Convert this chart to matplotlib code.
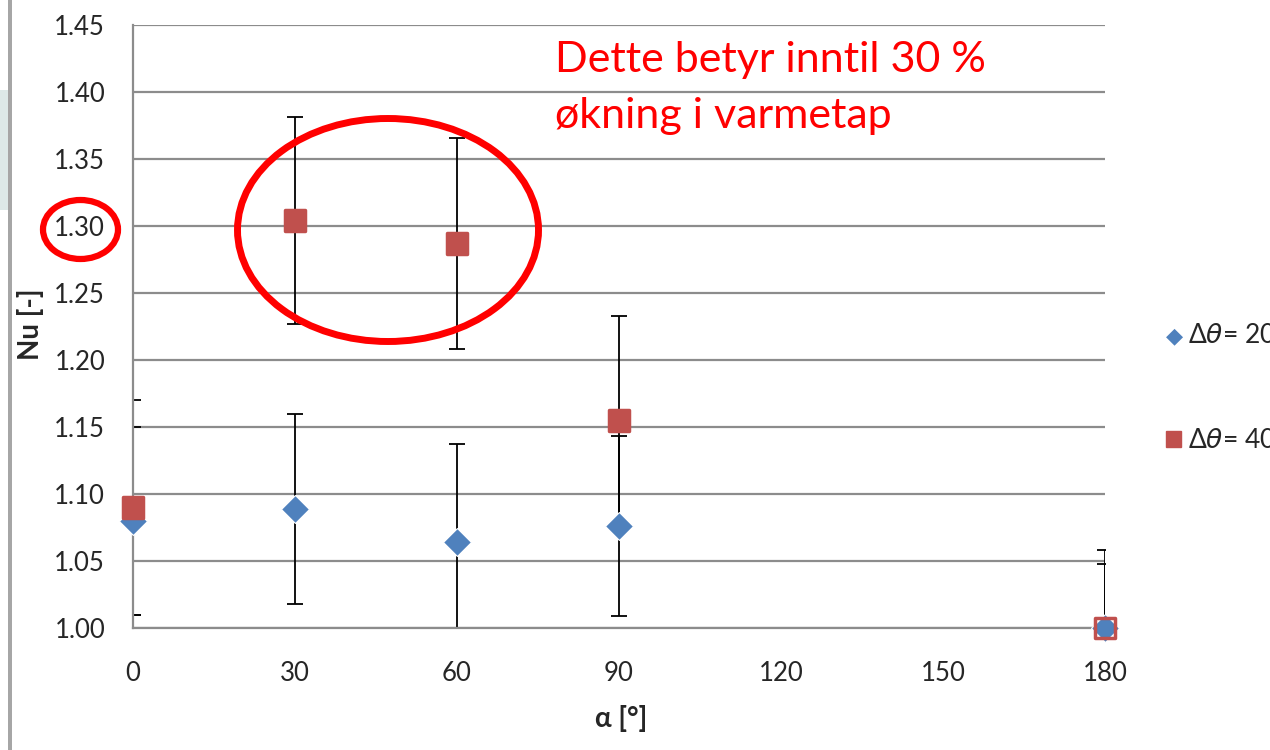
import matplotlib.pyplot as plt
from matplotlib.patches import Ellipse, Rectangle

# data
angles = [0, 30, 60, 90, 180]
nu_20 = [1.080, 1.089, 1.064, 1.076, 1.000]
err_20 = [0.070, 0.071, 0.073, 0.067, 0.048]
nu_40 = [1.090, 1.304, 1.287, 1.155, 1.000]
err_40 = [0.080, 0.077, 0.079, 0.078, 0.058]
xticks = [0, 30, 60, 90, 120, 150, 180]
yticks = [1.00, 1.05, 1.10, 1.15, 1.20, 1.25, 1.30, 1.35, 1.40, 1.45]

blue = '#4F81BD'
red = '#C0504D'
grid = '#8C8C8C'

plt.rcParams['font.family'] = ['Lato', 'DejaVu Sans']

W, H = 1270, 750
fig = plt.figure(figsize=(W / 100, H / 100), dpi=100)
ax = fig.add_axes([133 / W, 1 - 628 / H, (1105 - 133) / W, (628 - 25) / H])

ax.set_xlim(0, 180)
ax.set_ylim(1.0, 1.45)
ax.set_xticks(xticks)
ax.set_yticks(yticks)
ax.set_yticklabels(['%.2f' % v for v in yticks])
ax.tick_params(length=0, labelsize=18.5, colors='#262626')
ax.tick_params(axis='y', pad=20)
ax.tick_params(axis='x', pad=24)
ax.yaxis.grid(True, color=grid, lw=1.6)
ax.set_axisbelow(True)
for s in ['top', 'right']:
    ax.spines[s].set_visible(False)
for s in ['left', 'bottom']:
    ax.spines[s].set_color(grid)
    ax.spines[s].set_linewidth(1.6)

# error bars
ax.errorbar(angles, nu_20, yerr=err_20, fmt='none', ecolor='black',
            elinewidth=1.3, capsize=6, capthick=1.3, zorder=2)
ax.errorbar(angles, nu_40, yerr=err_40, fmt='none', ecolor='black',
            elinewidth=1.3, capsize=6, capthick=1.3, zorder=2)

# markers
ax.plot(angles, nu_20, ls='none', marker='D', ms=14, color=blue,
        mec='white', mew=0.8, zorder=3, clip_on=False)
face_40 = [red] * (len(angles) - 1) + ['none']
ax.scatter(angles, nu_40, marker='s', s=220, facecolors=face_40,
           edgecolors=red, linewidths=2.5, zorder=4, clip_on=False)

# axis titles
fig.text(30 / W, 1 - 324 / H, 'Nu [-]', fontsize=20, fontweight='bold',
         rotation=90, ha='center', va='center', color='#262626')
fig.text(621 / W, 1 - 718 / H, 'α [°]', fontsize=20, fontweight='bold',
         ha='center', va='center', color='#262626')

# legend (cut off at the right edge like the slide)
fig.text(1174 / W, 1 - 336 / H, '◆', color=blue, fontsize=16,
         ha='center', va='center', family=['DejaVu Sans'])
fig.text(1188 / W, 1 - 336 / H, r'Δ$\theta$= 20', fontsize=19,
         va='center', color='#262626')
fig.add_artist(Rectangle((1166 / W, 1 - 447 / H), 15 / W, 16 / H,
                         transform=fig.transFigure, color=red))
fig.text(1188 / W, 1 - 440 / H, r'Δ$\theta$= 40', fontsize=19,
         va='center', color='#262626')

# annotation
fig.text(555 / W, 1 - 72 / H, 'Dette betyr inntil 30 %', color='#FF0000',
         fontsize=31, va='baseline')
fig.text(555 / W, 1 - 128 / H, 'økning i varmetap', color='#FF0000',
         fontsize=31, va='baseline')
fig.add_artist(Ellipse((388 / W, 1 - 230 / H), 301 / W, 223 / H,
                       transform=fig.transFigure, fill=False,
                       ec='#FF0000', lw=5))
fig.add_artist(Ellipse((80.5 / W, 1 - 229.5 / H), 75 / W, 59 / H,
                       transform=fig.transFigure, fill=False,
                       ec='#FF0000', lw=4.5))

# slide edge on the left
fig.add_artist(Rectangle((0, 1 - 210 / H), 10 / W, 120 / H,
                         transform=fig.transFigure, color='#DDE9E8', lw=0))
fig.add_artist(Rectangle((8 / W, 0), 4 / W, 1,
                         transform=fig.transFigure, color='#A6A6A6', lw=0))

fig.savefig('out.png', dpi=100)
